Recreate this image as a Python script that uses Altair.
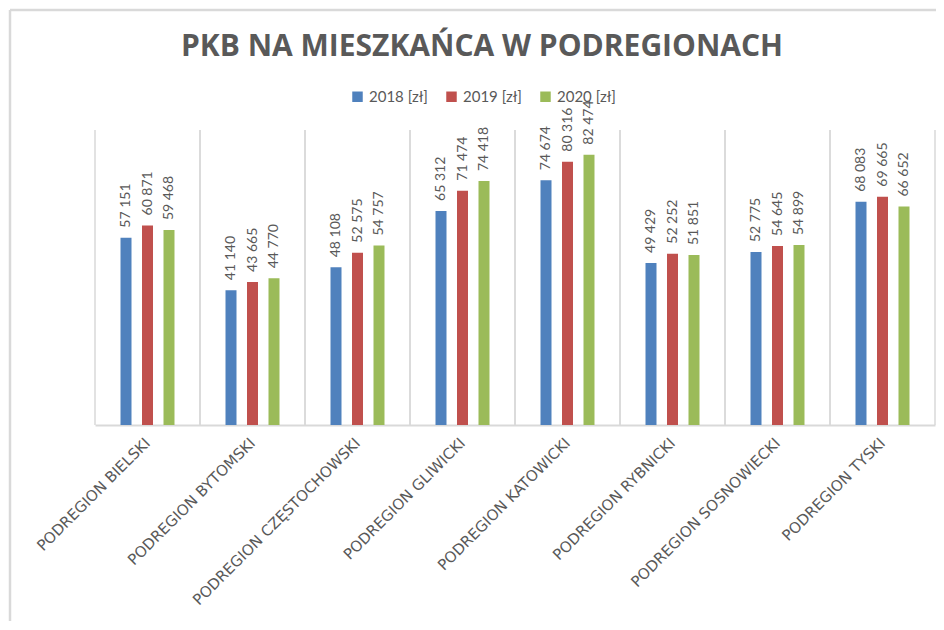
import altair as alt
import pandas as pd

regions = ["PODREGION BIELSKI", "PODREGION BYTOMSKI", "PODREGION CZĘSTOCHOWSKI",
           "PODREGION GLIWICKI", "PODREGION KATOWICKI", "PODREGION RYBNICKI",
           "PODREGION SOSNOWIECKI", "PODREGION TYSKI"]
years = ["2018 [zł]", "2019 [zł]", "2020 [zł]"]
v2018 = [57151, 41140, 48108, 65312, 74674, 49429, 52775, 68083]
v2019 = [60871, 43665, 52575, 71474, 80316, 52252, 54645, 69665]
v2020 = [59468, 44770, 54757, 74418, 82474, 51851, 54899, 66652]
colors = ["#4F81BD", "#C0504D", "#9BBB59"]

rows = []
for yr, vals in zip(years, [v2018, v2019, v2020]):
    for r, v in zip(regions, vals):
        rows.append({"region": r, "year": yr, "value": v})
df = pd.DataFrame(rows)
edges = pd.DataFrame({"region": regions})
frame = pd.DataFrame({"a": [0]})

GRID = "#D9D9D9"
TXT = "#595959"

x_axis = alt.Axis(labelAngle=-45, labelAlign="right", labelBaseline="middle",
                  labelPadding=15, labelFont="DejaVu Sans", labelFontSize=15,
                  labelColor=TXT, ticks=False, domainColor=GRID, domainWidth=2,
                  grid=False, title=None, labelLimit=400)
x_enc = alt.X("region:N", sort=regions, scale=alt.Scale(paddingInner=0, paddingOuter=0),
              axis=x_axis)
xo_enc = alt.XOffset("year:N", sort=years,
                     scale=alt.Scale(paddingInner=0, paddingOuter=0.942))
y_enc = alt.Y("value:Q", scale=alt.Scale(domain=[0, 90000]), axis=None)

base = alt.Chart(df)

bars = base.mark_bar(width=11).encode(
    x=x_enc, xOffset=xo_enc, y=y_enc,
    color=alt.Color("year:N", sort=years,
                    scale=alt.Scale(domain=years, range=colors),
                    legend=alt.Legend(orient="none", legendX=255, legendY=-41,
                                      direction="horizontal", title=None,
                                      symbolType="square", symbolSize=110,
                                      symbolStrokeWidth=0,
                                      labelFont="Lato", labelFontSize=15,
                                      labelColor=TXT, columnPadding=16,
                                      labelOffset=4)),
)

labels = base.transform_calculate(
    lbl="replace(format(datum.value, ',d'), ',', ' ')"
).mark_text(angle=270, align="left", baseline="middle", dx=10,
            font="Lato", fontSize=14, color=TXT).encode(
    x=x_enc, xOffset=xo_enc, y=y_enc, text="lbl:N"
)

left_edges = alt.Chart(edges).mark_rule(color=GRID, strokeWidth=1.5).encode(
    x=alt.X("region:N", sort=regions, bandPosition=0, axis=x_axis)
)
right_edges = alt.Chart(edges).mark_rule(color=GRID, strokeWidth=1.5).encode(
    x=alt.X("region:N", sort=regions, bandPosition=1, axis=x_axis)
)

frame_top = alt.Chart(frame).mark_rule(color=GRID, strokeWidth=2.5).encode(
    x=alt.value(-85), x2=alt.value(860), y=alt.value(-120), y2=alt.value(-120)
)
frame_left = alt.Chart(frame).mark_rule(color=GRID, strokeWidth=2.5).encode(
    x=alt.value(-85), x2=alt.value(-85), y=alt.value(-120), y2=alt.value(520)
)

chart = alt.layer(frame_top, frame_left, left_edges, right_edges, bars, labels).properties(
    width=840, height=295,
    autosize=alt.AutoSizeParams(type="none"),
    padding={"left": 87, "top": 122, "right": 1, "bottom": 196},
    title=alt.TitleParams("PKB NA MIESZKAŃCA  W PODREGIONACH", font="Open Sans",
                          fontSize=30, fontWeight="bold", color=TXT,
                          anchor="middle", dx=-33, offset=-53),
).configure_view(stroke=None)

chart.save("out.html", embed_options={"renderer": "svg", "actions": False})
